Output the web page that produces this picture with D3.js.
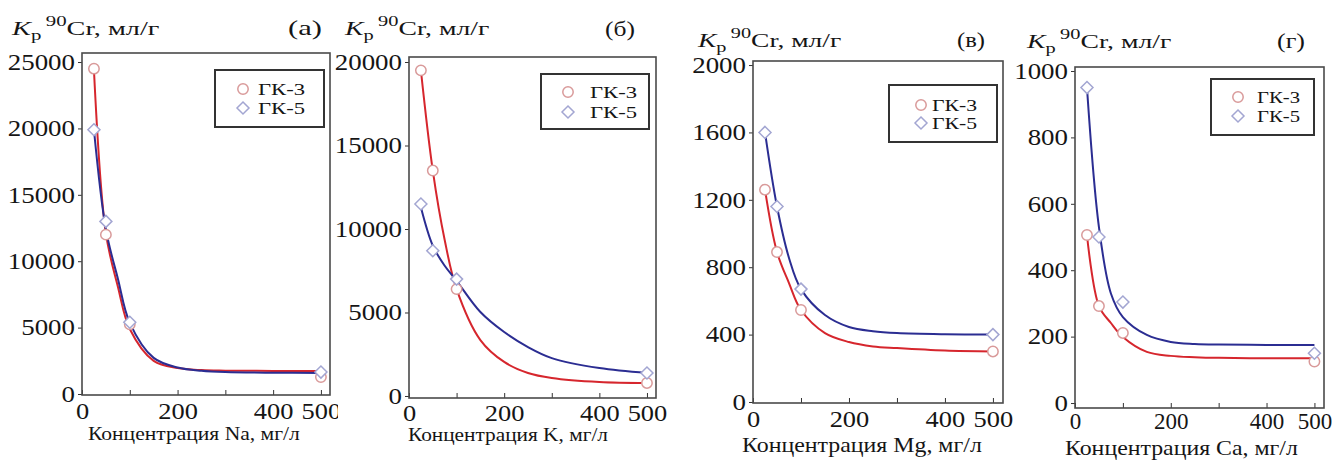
<!DOCTYPE html>
<html>
<head>
<meta charset="utf-8">
<script src="https://cdn.jsdelivr.net/npm/d3@7"></script>
<style>
  body { margin: 0; background: #fff; }
  svg { display: block; }
  text { font-family: "Liberation Serif", "Times New Roman", serif; fill: #151515; }
</style>
</head>
<body>
<svg id="chart" width="1332" height="460"></svg>
<script>
// ---- data ----
var seriesNames = ["ГК-3", "ГК-5"];
var panelLetters = ["(а)", "(б)", "(в)", "(г)"];
var elements = ["Na", "K", "Mg", "Ca"];

var pointX = [25, 50, 100, 500];           // measured points
var fitX = [25, 50, 75, 100, 150, 200, 250, 300, 400, 500]; // samples of the fitted curves

var naGK3 = [24500, 12000, 5250, 1280];
var naGK5 = [19900, 13000, 5400, 1650];
var naFit3 = [24400, 12100, 8100, 4900, 2500, 1960, 1800, 1760, 1740, 1740];
var naFit5 = [19900, 12400, 8700, 5360, 2720, 2000, 1750, 1650, 1600, 1590];

var kGK3 = [19500, 13500, 6400, 780];
var kGK5 = [11500, 8700, 7000, 1380];
var kFit3 = [19500, 13500, 9340, 6400, 3350, 2040, 1380, 1080, 840, 780];
var kFit5 = [11300, 9000, 7800, 6900, 5030, 3830, 2930, 2270, 1670, 1380];

var mgGK3 = [1260, 890, 546, 300];
var mgGK5 = [1600, 1160, 670, 400];
var mgFit3 = [1260, 890, 706, 546, 409, 356, 330, 320, 305, 300];
var mgFit5 = [1600, 1160, 855, 670, 516, 445, 420, 409, 402, 400];

var caGK3 = [506, 292, 211, 125];
var caGK5 = [950, 500, 304, 150];
var caFit3 = [506, 292, 241, 199, 154, 142, 138, 136, 135, 135];
var caFit5 = [950, 530, 330, 259, 205, 184, 178, 176, 175, 175];

var naTicks = [0, 5000, 10000, 15000, 20000, 25000];
var kTicks = [0, 5000, 10000, 15000, 20000];
var mgTicks = [0, 400, 800, 1200, 1600, 2000];
var caTicks = [0, 200, 400, 600, 800, 1000];

var xTickMarks = [0, 100, 200, 300, 400, 500];
var xTickLabels = [0, 200, 400, 500];

// ---- layout ----
var panels = [
  { gk3: naGK3, gk5: naGK5, fit3: naFit3, fit5: naFit5, yTicks: naTicks,
    frame: [82, 53, 330, 395], xMax: 519, yDom: [-75, 25680], xPad: 8, xSx: 1.15,
    axTitle: [88, 440, 212, 19], title: [12, 35, 143], letter: [288, 35, 34],
    legend: [215, 70, 109, 57, 243, 89, 108, 258, 47] },
  { gk3: kGK3, gk5: kGK5, fit3: kFit3, fit5: kFit5, yTicks: kTicks,
    frame: [409, 57, 656, 398], xMax: 519, yDom: [-120, 20300], xPad: 7, xSx: 1.15,
    axTitle: [408, 441, 200, 19], title: [345, 35, 140], letter: [605, 36, 30],
    legend: [541, 74, 108, 55, 568, 92, 112, 590, 47], mask: 338 },
  { gk3: mgGK3, gk5: mgGK5, fit3: mgFit3, fit5: mgFit5, yTicks: mgTicks,
    frame: [753, 61, 1003, 403], xMax: 521, yDom: [-6, 2024], xPad: 7.5, xSx: 1.15,
    axTitle: [742, 452, 240, 21], title: [698, 47, 139], letter: [957, 47, 28],
    legend: [889, 85, 108, 57, 921, 105, 123, 932, 45] },
  { gk3: caGK3, gk5: caGK5, fit3: caFit3, fit5: caFit5, yTicks: caTicks,
    frame: [1075, 67, 1324, 408], xMax: 520, yDom: [-15, 1012], xPad: 4.5, xSx: 1.0,
    axTitle: [1065, 455, 233, 21], title: [1027, 48, 140], letter: [1277, 48, 28],
    legend: [1211, 79, 103, 56, 1238, 97, 116, 1257, 43] }
];

var red = "#d6262d", blue = "#2b2d92";
var circleStroke = "#d99a9a", diamondStroke = "#a3a6d2";
var svg = d3.select("#chart");

// text placed at (x,y), optionally stretched to a given width
function putText(parent, x, y, str, size, anchor, width) {
  var g = parent.append("g").attr("transform", "translate(" + x + "," + y + ")");
  var t = g.append("text").attr("font-size", size).attr("text-anchor", anchor || "start").text(str);
  if (width) fitWidth(t, width);
  return t;
}
function fitWidth(t, width) {
  var w = t.node().getComputedTextLength();
  if (w > 0) t.attr("transform", "scale(" + (width / w) + ",1)");
}

function drawCircle(g, cx, cy) {
  g.append("circle").attr("cx", cx).attr("cy", cy).attr("r", 5.2)
    .attr("fill", "#fff").attr("stroke", circleStroke).attr("stroke-width", 1.5);
}
function drawDiamond(g, cx, cy) {
  var s = 6;
  g.append("path")
    .attr("d", "M" + cx + "," + (cy - s) + "L" + (cx + s) + "," + cy + "L" + cx + "," + (cy + s) + "L" + (cx - s) + "," + cy + "Z")
    .attr("fill", "#fff").attr("stroke", diamondStroke).attr("stroke-width", 1.5);
}

function drawPanel(p, i) {
  var g = svg.append("g");
  var f = p.frame;
  if (p.mask) g.append("rect").attr("x", p.mask).attr("y", 0).attr("width", f[2] + 12 - p.mask).attr("height", 460).attr("fill", "#fff");

  var x = d3.scaleLinear().domain([0, p.xMax]).range([f[0], f[2]]);
  var y = d3.scaleLinear().domain(p.yDom).range([f[3], f[1]]);

  // y axis
  var ya = g.append("g").attr("transform", "translate(" + f[0] + ",0)")
    .call(d3.axisLeft(y).tickValues(p.yTicks).tickSize(4).tickPadding(2).tickFormat(d3.format("d")));
  ya.select(".domain").remove();
  ya.attr("color", "#333");
  ya.selectAll("text").attr("font-family", "Liberation Serif, serif").attr("font-size", 23)
    .attr("fill", "#151515").attr("transform", "scale(1.17,1)");

  // x axis, ticks pointing inward
  var xa = g.append("g").attr("transform", "translate(0," + f[3] + ")")
    .call(d3.axisBottom(x).tickValues(xTickMarks).tickSizeInner(-5).tickSizeOuter(0).tickPadding(p.xPad)
      .tickFormat(function (d) { return xTickLabels.indexOf(d) >= 0 ? d : ""; }));
  xa.select(".domain").remove();
  xa.attr("color", "#333");
  xa.selectAll("text").attr("font-family", "Liberation Serif, serif").attr("font-size", 23)
    .attr("fill", "#151515").attr("transform", "scale(" + p.xSx + ",1)");

  // fitted curves
  var line = d3.line().x(function (d) { return x(d[0]); }).y(function (d) { return y(d[1]); })
    .curve(d3.curveCatmullRom.alpha(0.5));
  g.append("path").attr("d", line(d3.zip(fitX, p.fit3))).attr("fill", "none").attr("stroke", red).attr("stroke-width", 2);
  g.append("path").attr("d", line(d3.zip(fitX, p.fit5))).attr("fill", "none").attr("stroke", blue).attr("stroke-width", 2);

  // measured points
  pointX.forEach(function (v, k) { drawCircle(g, x(v), y(p.gk3[k])); });
  pointX.forEach(function (v, k) { drawDiamond(g, x(v), y(p.gk5[k])); });

  // frame
  g.append("rect").attr("x", f[0]).attr("y", f[1]).attr("width", f[2] - f[0]).attr("height", f[3] - f[1])
    .attr("fill", "none").attr("stroke", "#4a4a4a").attr("stroke-width", 1.6);

  // legend
  var L = p.legend;
  g.append("rect").attr("x", L[0]).attr("y", L[1]).attr("width", L[2]).attr("height", L[3])
    .attr("fill", "#fff").attr("stroke", "#333").attr("stroke-width", 2);
  drawCircle(g, L[4], L[5]);
  drawDiamond(g, L[4], L[6]);
  putText(g, L[7], L[5] + 6, seriesNames[0], 17, "start", L[8]);
  putText(g, L[7], L[6] + 6, seriesNames[1], 17, "start", L[8]);

  // y title: K_p 90Cr, мл/г
  var tg = g.append("g").attr("transform", "translate(" + p.title[0] + "," + p.title[1] + ")");
  var tt = tg.append("text").attr("font-size", 19);
  tt.append("tspan").attr("font-style", "italic").text("K");
  tt.append("tspan").attr("font-size", 14).attr("dy", 5).text("p");
  tt.append("tspan").attr("font-size", 14).attr("dx", 3).attr("dy", -14).text("90");
  tt.append("tspan").attr("dy", 9).text("Cr, мл/г");
  fitWidth(tt, p.title[2]);

  putText(g, p.letter[0], p.letter[1], panelLetters[i], 21, "start", p.letter[2]);

  // x title
  putText(g, p.axTitle[0], p.axTitle[1], "Концентрация " + elements[i] + ", мг/л", p.axTitle[3], "start", p.axTitle[2]);
}

panels.forEach(drawPanel);
</script>
</body>
</html>
